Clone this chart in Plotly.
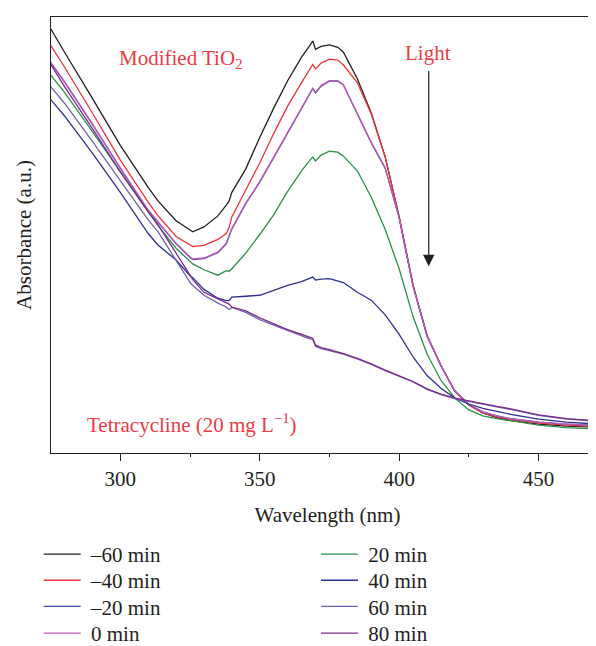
import plotly.graph_objects as go

# Wavelength grid (nm)
wavelength = [275, 280, 290, 300, 310, 313.5, 320, 325, 326, 330, 335, 338, 339, 340, 345,
              350, 355, 360, 365, 368, 369, 370, 372, 375, 378, 380, 385, 390, 395, 400,
              405, 410, 415, 420, 425, 430, 435, 440, 450, 460, 474]

# Absorbance (arbitrary units)
abs_m60 = [433.3, 409, 362, 314, 271, 257.3, 237, 227, 225.7, 230.7, 242, 253, 257, 266, 290,
           322, 352, 380, 404, 416, 420.5, 412, 415, 416.5, 414, 409, 382, 347, 302, 241,
           171, 120, 89, 63, 49, 41, 36, 33, 29.5, 27.5, 26]
abs_m40 = [416.3, 394, 347, 299, 256, 242.3, 221, 212, 210.7, 212, 218, 224, 230, 241, 269,
           296, 326, 354, 378, 392, 396.5, 392, 398, 402, 401, 396, 378, 346, 302, 241,
           171, 120, 89, 63, 49, 41, 37, 34, 30.5, 28.5, 26.5]
abs_m20 = [398.5, 378.5, 335.5, 290.5, 247.5, 235.5, 213.5, 199.5, 197.5, 198.5, 204.5, 213.5, 220.5, 228.5, 254.5,
           276.5, 301.5, 326.5, 350.5, 365.5, 371.8, 367.5, 374.5, 379.5, 379.5, 375.5, 345.5, 316.5, 290.5, 240,
           170, 119.5, 89, 63, 49.5, 42, 38, 35, 31.5, 29.5, 27.5]
abs_0 = [399, 379, 336, 291, 248, 236, 214, 200, 198, 199, 205, 214, 221, 229, 255,
         277, 302, 327, 351, 366, 372.3, 368, 375, 380, 380, 376, 346, 317, 291, 240,
         170, 119.5, 89, 63, 49.5, 42, 38, 35, 31.5, 29.5, 27.5]
abs_20 = [386, 368, 328, 287, 246, 232, 209, 195, 193, 187, 181.5, 186, 185.5, 188, 204,
          223, 243, 267, 288, 299, 302, 298, 304, 308, 307, 303, 288, 261, 228, 188,
          139, 101, 74, 56, 44, 38, 35, 33, 28.5, 26, 24]
abs_40 = [361, 344, 306, 266, 224, 212.3, 197, 181, 179, 167, 158, 155.5, 155.5, 159, 160,
          161, 166, 171, 175, 178, 179.5, 176.5, 177.5, 178, 176, 174, 164, 156, 141, 121,
          98, 79, 66, 56, 50, 45.5, 42.5, 39.5, 34.5, 31.5, 29]
abs_60 = [374, 357, 318, 278, 238, 226, 196, 174, 171, 161, 153, 149, 146.5, 148.5, 143.5,
          136, 130.5, 125, 120, 116.5, 116, 109, 106.5, 104.5, 102.5, 101, 96, 90.5, 84, 78.5,
          72.5, 65, 59.5, 55.5, 52.5, 49.5, 47, 44.5, 38.5, 34.5, 32]
abs_80 = [397, 374, 331, 287, 246, 233, 204, 181, 177, 164, 157, 153, 152, 149, 145,
          138, 132, 126, 121, 117.5, 117, 110, 107.5, 105.5, 103.5, 101.5, 96.5, 91, 84.5, 79,
          73, 65.5, 60, 56, 53, 50, 47.5, 45, 39, 35, 32.5]

labels = ["\u201360 min", "\u201340 min", "\u201320 min", "0 min", "20 min", "40 min", "60 min", "80 min"]
colors = ["#231f20", "#ee3338", "#3a4fa3", "#c05ab8", "#2a9048", "#2e3192", "#7060b4", "#7e2a8c"]
series = [abs_m60, abs_m40, abs_m20, abs_0, abs_20, abs_40, abs_60, abs_80]

FONT = "Liberation Serif, Times New Roman, serif"
FS = 21
TXT = "#231f20"
RED = "#ee3a43"

# legend placement: two columns of four rows (paper coordinates)
legend_cols = [-0.0222, -0.0222, -0.0222, -0.0222, 0.4792, 0.4792, 0.4792, 0.4792]
legend_rows = [-0.1858, -0.2456, -0.3056, -0.3670, -0.1858, -0.2456, -0.3056, -0.3670]

fig = go.Figure()
legend_layout = {}
for i, (name, ys, col) in enumerate(zip(labels, series, colors)):
    lid = "legend" if i == 0 else f"legend{i + 1}"
    fig.add_trace(go.Scatter(x=wavelength, y=ys, mode="lines", name="\u00a0" + name,
                             line=dict(color=col, width=1.3), legend=lid))
    legend_layout[lid] = dict(x=legend_cols[i], y=legend_rows[i], xanchor="left", yanchor="top",
                              bgcolor="rgba(0,0,0,0)", itemwidth=37, orientation="v",
                              font=dict(family=FONT, size=FS, color=TXT))

fig.update_layout(
    width=596, height=646,
    margin=dict(l=43, r=0, t=9, b=192),
    plot_bgcolor="white", paper_bgcolor="white",
    font=dict(family=FONT, size=FS, color=TXT),
    showlegend=True,
    xaxis=dict(range=[275.15, 473.45], showline=True, linecolor=TXT, linewidth=1.2,
               mirror=True, ticks="outside", ticklen=7, tickwidth=1.2, tickcolor=TXT,
               tick0=300, dtick=50, showgrid=False, zeroline=False,
               minor=dict(dtick=25, tick0=275, ticks="outside", ticklen=3, tickwidth=1.2,
                          tickcolor=TXT, showgrid=False),
               tickfont=dict(family=FONT, size=FS, color=TXT),
               title=dict(text="Wavelength (nm)", standoff=17,
                          font=dict(family=FONT, size=FS, color=TXT)),
               automargin=False),
    yaxis=dict(range=[0, 445], showline=True, linecolor=TXT, linewidth=1.2,
               ticks="", showticklabels=False, showgrid=False, zeroline=False,
               title=dict(text="Absorbance (a.u.)", standoff=12,
                          font=dict(family=FONT, size=FS, color=TXT)),
               automargin=False),
    annotations=[
        dict(text="Modified TiO<sub>2</sub>", x=0.2342, y=0.9034, xref="paper", yref="paper",
             xanchor="center", yanchor="middle", showarrow=False,
             font=dict(family=FONT, size=FS, color=RED)),
        dict(text="Light", x=0.6817, y=0.9169, xref="paper", yref="paper",
             xanchor="center", yanchor="middle", showarrow=False,
             font=dict(family=FONT, size=FS, color=RED)),
        dict(text="Tetracycline (20 mg L<sup>\u22121</sup>)", x=0.0615, y=0.0674,
             xref="paper", yref="paper", xanchor="left", yanchor="middle", showarrow=False,
             font=dict(family=FONT, size=FS, color=RED)),
        dict(text="", x=410.6, y=190.7, xref="x", yref="y", ax=0, ay=-196.6,
             showarrow=True, arrowhead=2, arrowsize=1.9, arrowwidth=1.2, arrowcolor=TXT),
    ],
)
fig.update_layout(**legend_layout)

fig.write_html("out.html")
